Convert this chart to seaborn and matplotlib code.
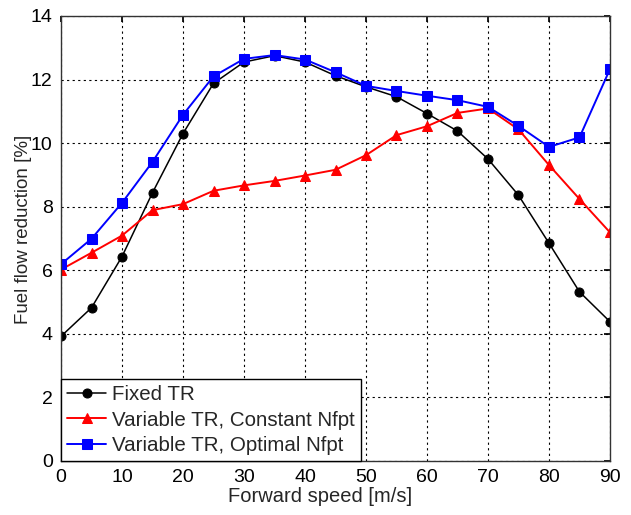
import matplotlib
matplotlib.use("Agg")
import matplotlib.pyplot as plt
import seaborn as sns
import numpy as np

speed = [0, 5, 10, 15, 20, 25, 30, 35, 40, 45, 50, 55, 60, 65, 70, 75, 80, 85, 90]
fixed_tr = [3.92, 4.82, 6.43, 8.44, 10.3, 11.88, 12.55, 12.75, 12.55, 12.12, 11.77, 11.46, 10.93, 10.38, 9.5, 8.36, 6.85, 5.32, 4.38]
var_const = [6.02, 6.55, 7.09, 7.89, 8.08, 8.5, 8.67, 8.81, 8.98, 9.16, 9.62, 10.25, 10.53, 10.95, 11.09, 10.43, 9.31, 8.24, 7.19]
var_opt = [6.19, 6.99, 8.12, 9.41, 10.89, 12.1, 12.65, 12.77, 12.63, 12.23, 11.8, 11.64, 11.49, 11.35, 11.14, 10.54, 9.88, 10.18, 12.33]
labels = ["Fixed TR", "Variable TR, Constant Nfpt", "Variable TR, Optimal Nfpt"]
xticks = [0, 10, 20, 30, 40, 50, 60, 70, 80, 90]
yticks = [0, 2, 4, 6, 8, 10, 12, 14]

sns.set_theme(style="white")
plt.rcParams['font.family'] = ['Liberation Sans', 'DejaVu Sans']

fig = plt.figure(figsize=(6.31, 5.15), dpi=100)
ax = fig.add_axes([0.0967, 0.105, 0.87, 0.864])

sns.lineplot(x=speed, y=fixed_tr, ax=ax, color="black", marker="o", markersize=6.5,
             markeredgecolor="black", linewidth=1.1, label=labels[0], sort=False)
sns.lineplot(x=speed, y=var_const, ax=ax, color="red", marker="^", markersize=7,
             markeredgecolor="red", linewidth=1.4, label=labels[1], sort=False)
sns.lineplot(x=speed, y=var_opt, ax=ax, color="blue", marker="s", markersize=7,
             markeredgecolor="blue", linewidth=1.4, label=labels[2], sort=False)

ax.set_xlim(0, 90)
ax.set_ylim(0, 14)
ax.set_xticks(xticks)
ax.set_yticks(yticks)
ax.grid(True, color="black", linestyle=(0, (2, 3)), linewidth=0.8)
ax.set_axisbelow(True)
for s in ax.spines.values():
    s.set_color("#333333")
    s.set_linewidth(1.0)
ax.tick_params(direction="in", top=True, right=True, length=4, labelsize=14,
               colors="black", pad=6)
ax.set_xlabel("Forward speed [m/s]", fontsize=14.5, labelpad=3)
ax.set_ylabel("Fuel flow reduction [%]", fontsize=13.5, labelpad=1)
ax.xaxis.set_label_coords(0.472, -0.058)
ax.yaxis.set_label_coords(-0.052, 0.521)

leg = ax.legend(loc="lower left", fontsize=14.8, frameon=True, fancybox=False,
                borderaxespad=0, handlelength=1.9, handletextpad=0.3,
                labelspacing=0.3, borderpad=0.3)
leg.get_frame().set_edgecolor("black")
leg.get_frame().set_linewidth(1.0)
leg.get_frame().set_alpha(1)

fig.savefig("out.png", dpi=100, facecolor="white")
